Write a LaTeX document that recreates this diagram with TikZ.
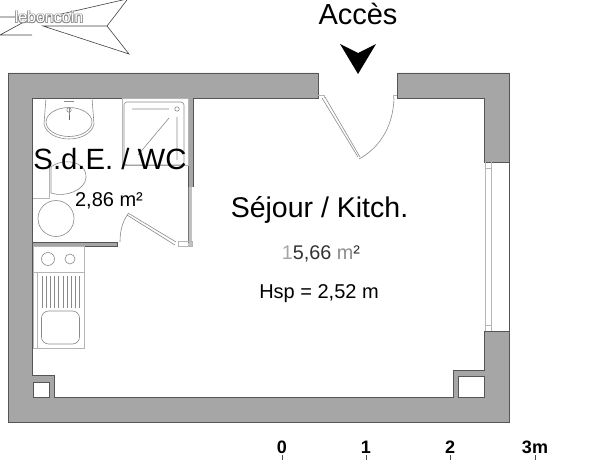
\documentclass[tikz,border=0pt]{standalone}
\usepackage{fontspec}
\setmainfont{Liberation Sans}
\definecolor{wallgray}{HTML}{A6A6A6}
\definecolor{wallline}{HTML}{555555}
\definecolor{fixline}{HTML}{8A8A8A}
\definecolor{lightline}{HTML}{B5B5B5}
\tikzset{
  wall/.style={fill=wallgray,draw=wallline,line width=0.9pt,line join=miter},
  fixture/.style={draw=fixline,line width=0.6pt},
  faint/.style={draw=lightline,line width=0.6pt},
  hole/.style={fill=white,draw=wallline,line width=0.9pt},
  label/.style={inner sep=0pt,text=black},
}
\begin{document}
\begin{tikzpicture}[x=1pt,y=-1pt]
\useasboundingbox (0,0) rectangle (613,460);
% compass
\draw[draw=black!75,line width=0.6pt] (0,17) -- (28,17) (0,35) -- (32,35)
  (0,35) -- (22,23) (22,23) -- (127,-1) (127,0) -- (107,26) -- (129,54) -- (43,26) -- (107,26);
% watermark
\foreach \dx/\dy in {0.7/0.7,-0.7/0.7,0.7/-0.7,-0.7/-0.7}{
  \node[label,font=\fontsize{16}{16}\selectfont,text=black!45] at (49+\dx,17+\dy) {leboncoin};}
\node[label,font=\fontsize{16}{16}\selectfont,text=white] (wm) at (49,17) {leboncoin};
% walls
\draw[wall] (318,73) -- (8,73) -- (8,422) -- (509,422) -- (509,331) -- (484,331) -- (484,370) -- (453,370)
  -- (453,397) -- (54,397) -- (54,375) -- (32,375) -- (32,98) -- (318,98) -- cycle;
\draw[wall] (397,73) -- (509,73) -- (509,162) -- (484,162) -- (484,98) -- (397,98) -- cycle;
\draw[wallline,line width=0.9pt] (509,162) -- (509,331);
\draw[hole] (33,382) rectangle (49,397);
\draw[hole] (458,376) rectangle (484,397);
% partitions
\fill[wallgray] (188,98) rectangle (193,187);
\draw[wallline,line width=0.8pt] (188,98) -- (188,187) (193,98) -- (193,187);
\fill[wallgray!70] (188,187) rectangle (192,246);
\draw[wallline!80,line width=0.7pt] (188,187) -- (188,243);
\draw[wall] (32,242) rectangle (117,246);
% window
\draw[faint] (485,162) -- (485,331) (491,162) -- (491,331) (485,168) -- (491,168) (485,325) -- (491,325);
% entry door
\draw[faint] (318,95) -- (324,95) -- (324,98) (393,98) -- (393,95) -- (397,95);
\draw[fixture] (322,98) -- (358,157) (325,97) -- (360,157);
\draw[fixture] (359,159) .. controls (377,149) and (393,130) .. (394,98);
% arrow
\fill[black] (340,44) -- (358,53) -- (376,44) -- (358,74) -- cycle;
% bath door
\draw[fixture] (128,213) -- (176,242) (127,215) -- (175,245);
\draw[fixture] (128,214) .. controls (122,222) and (120,232) .. (120,242);
\draw[faint] (178,241) rectangle (192,246);
% basin
\draw[fixture] (46,98) -- (44,124) .. controls (46,134) and (58,139) .. (69,139)
  .. controls (80,139) and (92,134) .. (94,124) -- (92,98);
\draw[fixture] (69,122) ellipse (23 and 14.5);
\draw[fixture] (69,120) -- (69,107);
\draw[fixture,line width=1pt] (64,101) -- (74,101);
\draw[fixture] (69,110) circle (2.2);
\draw[black!60,line width=1pt] (69,115) -- (69,120);
% shower
\draw[faint] (122,98) rectangle (188,165);
\draw[fixture,rounded corners=3pt] (124,102) rectangle (184,165);
\draw[fixture] (132,109) -- (169,109) (177,117) -- (177,160) (169,118) -- (138,155);
\draw[fixture] (177,109) circle (2.2);
% wc
\draw[fixture] (51,167) .. controls (62,158) and (87,160) .. (86,178) .. controls (85,190) and (65,198) .. (51,193) -- cycle;
\draw[faint] (33,198) -- (49,198) -- (49,162);
\draw[fixture] (56,218.5) circle (18);
% kitchen
\draw[faint] (33,246) rectangle (84,348);
\draw[faint] (33,272) -- (84,272) (37,272) -- (37,348);
\draw[fixture] (48,259) circle (6.5);
\draw[fixture] (70,259) circle (5);
\foreach \x in {42,46.2,...,81}{\draw[fixture,line width=0.7pt] (\x,276) -- (\x,308);}
\draw[fixture,rounded corners=7pt] (41.5,311) rectangle (79.5,344);
% labels
\node[label,font=\fontsize{29}{29}\selectfont] (a) at (358,14) {Accès};
\node[label,font=\fontsize{29.3}{29}\selectfont] (b) at (110,159) {S.d.E. / WC};
\node[label,font=\fontsize{20}{20}\selectfont] (c) at (109,201) {2,86 m²};
\node[label,font=\fontsize{28.5}{28}\selectfont] (d) at (319.5,210) {Séjour / Kitch.};
\node[label,font=\fontsize{19.8}{20}\selectfont,text=black!80] (e) at (321,254) {{\color{black!35}1}5,66 {\color{black!45}m}²};
\node[label,font=\fontsize{20}{20}\selectfont] (f) at (319,294) {Hsp = 2,52 m};
% scale
\foreach \x/\t in {282/0,366/1,450/2}{\node[label,font=\bfseries\fontsize{18}{18}\selectfont] (s\t) at (\x,447) {\t};}
\node[label,font=\bfseries\fontsize{18}{18}\selectfont] (s3) at (535,447) {3m};
\foreach \x in {282,366,450,535}{\draw[black!70,line width=0.8pt] (\x,455) -- (\x,460);}
\end{tikzpicture}
\end{document}
